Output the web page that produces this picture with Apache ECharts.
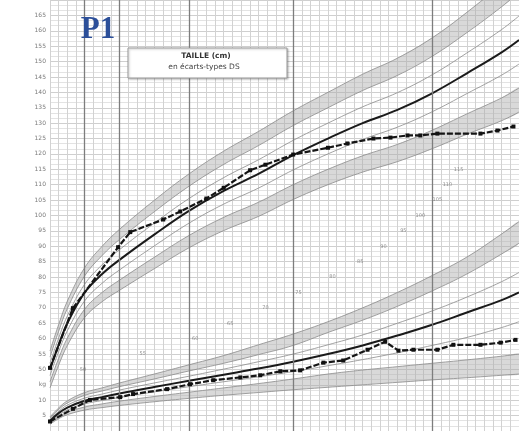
<!DOCTYPE html>
<html>
<head>
<meta charset="utf-8">
<script src="https://cdn.jsdelivr.net/npm/echarts/dist/echarts.min.js"></script>
<style>html,body{margin:0;padding:0;background:#fff;}#c{width:519px;height:431px;}</style>
</head>
<body>
<div id="c"></div>
<script>
// ---- Data (age in years) ----
const ages = [0, 0.25, 0.5, 1, 1.5, 2, 3, 4, 5, 6, 7, 8, 9, 10, 11, 12, 13, 13.5];

// Height reference curves (cm)
const heightM  = [50, 58, 65, 75, 81, 85.6, 93.8, 101.5, 108, 113.5, 119.6, 125, 130, 134.3, 139.7, 146.2, 153, 157];
const heightP1 = [52, 60.2, 67.4, 77.7, 84, 88.9, 97.5, 105.5, 112.3, 118.1, 124.4, 130, 135.3, 139.9, 145.7, 152.8, 160.4, 164.8];
const heightP2 = [54, 62.4, 69.8, 80.4, 87, 92.2, 101.2, 109.5, 116.6, 122.7, 129.2, 135, 140.6, 145.5, 151.7, 159.4, 167.8, 172.6];
const heightP3 = [56, 64.6, 72.2, 83.1, 90, 95.5, 104.9, 113.5, 120.9, 127.3, 134, 140, 145.9, 151.1, 157.7, 166, 175.2, 180.4];
const heightM1 = [48, 55.8, 62.6, 72.3, 78, 82.3, 90.1, 97.5, 103.7, 108.9, 114.8, 120, 124.7, 128.7, 133.7, 139.6, 145.6, 149.2];
const heightM2 = [46, 53.6, 60.2, 69.6, 75, 79, 86.4, 93.5, 99.4, 104.3, 110, 115, 119.4, 123.1, 127.7, 133, 138.2, 141.4];
const heightM3 = [44, 51.4, 57.8, 66.9, 72, 75.7, 82.7, 89.5, 95.1, 99.7, 105.2, 110, 114.1, 117.5, 121.7, 126.4, 130.8, 133.6];

// Weight reference curves (kg)
const weightM  = [3.3, 5.8, 7.6, 9.8, 11, 12.2, 14.3, 16.3, 18.3, 20.3, 22.5, 25, 27.8, 31, 34.5, 38.5, 42.5, 45];
const weightP1 = [3.8, 6.4, 8.4, 10.7, 12, 13.3, 15.6, 17.8, 20.1, 22.5, 25, 28, 31.2, 35, 39, 43.5, 48.5, 51.5];
const weightP2 = [4.2, 7, 9.1, 11.6, 13, 14.4, 16.9, 19.5, 22, 24.8, 27.8, 32, 36, 40.5, 45.5, 51, 57.5, 61];
const weightP3 = [4.6, 7.5, 9.8, 12.5, 14, 15.6, 18.5, 21.5, 24.5, 28, 31.5, 35.5, 40, 45, 50.5, 56.5, 64, 68];
const weightM1 = [2.9, 5.1, 6.8, 8.8, 9.9, 10.9, 12.7, 14.4, 16, 17.6, 19.3, 21.2, 23.2, 25.4, 27.8, 30.4, 33.6, 35.5];
const weightM2 = [2.6, 4.6, 6.1, 7.8, 8.8, 9.7, 11.2, 12.6, 14, 15.4, 16.9, 18.5, 19.8, 20.9, 22, 23.1, 24.3, 25];
const weightM3 = [2.2, 4, 5.3, 6.8, 7.6, 8.3, 9.5, 10.6, 11.6, 12.5, 13.4, 14.2, 15, 15.8, 16.6, 17.3, 18.1, 18.5];

// Patient measurements
const patientHeightAges = [0, 0.66, 1.96, 2.31, 3.26, 3.75, 4.5, 5.0, 5.76, 6.2, 7.0, 8.0, 8.56, 9.31, 9.8, 10.29, 10.66, 11.15, 12.39, 12.88, 13.34];
const patientHeight     = [50.5, 69.9, 89.7, 94.6, 98.7, 101.3, 105.5, 109, 114.7, 116.5, 119.8, 122, 123.4, 125, 125.3, 126, 126, 126.6, 126.6, 127.6, 128.9];
const patientWeightAges = [0, 0.66, 1.15, 2.02, 2.39, 3.37, 4.03, 4.7, 5.48, 6.05, 6.63, 7.2, 7.87, 8.44, 9.14, 9.65, 10.03, 10.46, 11.15, 11.61, 12.39, 12.97, 13.4];
const patientWeight     = [3.1, 7.2, 10.1, 11.0, 12.0, 13.6, 15.2, 16.5, 17.4, 18.1, 19.4, 19.7, 22.2, 22.9, 26.4, 29.0, 26.1, 26.4, 26.4, 28.0, 28.0, 28.7, 29.6];

// Major vertical lines (ages)
const majorAges = [1, 2, 4, 7, 11];
// Diagonal small labels (age, height, text)
const diagAges   = [0.95, 2.67, 4.18, 5.19, 6.2, 7.15, 8.13, 8.93, 9.6, 10.17, 10.66, 11.15, 11.44, 11.76];
const diagHeights= [50, 55, 60, 65, 70, 75, 80, 85, 90, 95, 100, 105, 110, 115];
const diagTexts  = ['50','55','60','65','70','75','80','85','90','95','100','105','110','115'];

// Left axis labels below 50 belong to the weight scale
const lowLabels = {45: 'kg', 40: '10', 35: '5'};

const chart = echarts.init(document.getElementById('c'));

function pairs(xs, ys) { return xs.map((x, i) => [x, ys[i]]); }

function band(lower, upper, yIdx) {
  return {
    type: 'custom', coordinateSystem: 'cartesian2d', xAxisIndex: 0, yAxisIndex: yIdx,
    silent: true, z: 1, clip: true,
    data: [[0, 0]],
    renderItem: function (params, api) {
      const pts = [];
      for (let i = 0; i < ages.length; i++) pts.push(api.coord([ages[i], upper[i]]));
      for (let i = ages.length - 1; i >= 0; i--) pts.push(api.coord([ages[i], lower[i]]));
      return { type: 'polygon', shape: { points: pts, smooth: 0.25 }, style: { fill: 'rgba(170,170,170,0.45)' } };
    }
  };
}
function refLine(vals, yIdx, thick) {
  return {
    type: 'line', xAxisIndex: 0, yAxisIndex: yIdx, data: pairs(ages, vals),
    smooth: 0.4, showSymbol: false, silent: true, z: thick ? 4 : 3,
    lineStyle: thick ? { color: '#1a1a1a', width: 2 } : { color: '#8a8a8a', width: 0.8 }
  };
}
function patient(xs, ys, yIdx) {
  return {
    type: 'line', xAxisIndex: 0, yAxisIndex: yIdx, data: pairs(xs, ys),
    symbol: 'rect', symbolSize: 4, showSymbol: true, silent: true, z: 6,
    itemStyle: { color: '#111' },
    lineStyle: { color: '#151515', width: 2.2, type: [6, 2] }
  };
}

const series = [
  band(heightP2, heightP3, 0), band(heightM3, heightM2, 0),
  band(weightP2, weightP3, 1), band(weightM3, weightM2, 1),
  refLine(heightP3, 0), refLine(heightP2, 0), refLine(heightP1, 0),
  refLine(heightM1, 0), refLine(heightM2, 0), refLine(heightM3, 0),
  refLine(heightM, 0, true),
  refLine(weightP3, 1), refLine(weightP2, 1), refLine(weightP1, 1),
  refLine(weightM1, 1), refLine(weightM2, 1), refLine(weightM3, 1),
  refLine(weightM, 1, true),
  patient(patientHeightAges, patientHeight, 0),
  patient(patientWeightAges, patientWeight, 1),
  {
    type: 'scatter', xAxisIndex: 0, yAxisIndex: 0, symbolSize: 0, silent: true, z: 5,
    data: diagAges.map((a, i) => ({ value: [a, diagHeights[i]], label: { formatter: diagTexts[i] } })),
    label: { show: true, position: 'inside', fontSize: 5, color: '#777', fontFamily: 'DejaVu Sans' }
  },
  {
    type: 'line', xAxisIndex: 0, yAxisIndex: 0, data: [], silent: true,
    markLine: {
      silent: true, symbol: ['none', 'none'], label: { show: false },
      lineStyle: { color: '#7d7d7d', width: 1.3, type: 'solid' },
      data: majorAges.map(a => ({ xAxis: a }))
    }
  }
];

chart.setOption({
  animation: false,
  backgroundColor: '#fff',
  grid: { left: 50, right: 0, top: -2, bottom: -4, containLabel: false },
  xAxis: {
    type: 'value', min: 0, max: 13.5, interval: 0.25,
    axisLine: { show: false }, axisTick: { show: false }, axisLabel: { show: false },
    splitLine: { show: true, lineStyle: { color: '#d2d2d2', width: 1 } }
  },
  yAxis: [
    {
      type: 'value', min: 30, max: 170, interval: 5,
      axisLine: { show: false }, axisTick: { show: false },
      axisLabel: {
        fontSize: 6, color: '#7a7a7a', margin: 4, fontFamily: 'DejaVu Sans',
        formatter: function (v) {
          if (v >= 50 && v <= 165) return String(v);
          return lowLabels[v] || '';
        }
      },
      splitLine: { show: true, lineStyle: { color: '#cfcfcf', width: 1 } },
      minorTick: { show: false, splitNumber: 3 },
      minorSplitLine: { show: true, lineStyle: { color: '#e3e3e3', width: 1 } }
    },
    {
      type: 'value', min: 0, max: 140, show: false, splitLine: { show: false }
    }
  ],
  graphic: [
    {
      type: 'rect', shape: { x: 128, y: 48, width: 159, height: 30 }, z: 20,
      style: { fill: '#fff', stroke: '#9a9a9a', lineWidth: 1, shadowBlur: 2, shadowColor: 'rgba(0,0,0,0.25)', shadowOffsetX: 1, shadowOffsetY: 1 }
    },
    {
      type: 'text', x: 206, y: 56, z: 21,
      style: { text: 'TAILLE (cm)', fontSize: 7.5, fontFamily: 'DejaVu Sans', fill: '#333', align: 'center', verticalAlign: 'middle', fontWeight: 'bold' }
    },
    {
      type: 'text', x: 204, y: 67, z: 21,
      style: { text: 'en écarts-types DS', fontSize: 7.5, fontFamily: 'DejaVu Sans', fill: '#444', align: 'center', verticalAlign: 'middle' }
    },
    {
      type: 'text', x: 98, y: 30, z: 21,
      style: { text: 'P1', fontSize: 31, fontFamily: 'Liberation Serif', fontWeight: 'bold', fill: '#2c4f99', align: 'center', verticalAlign: 'middle' }
    }
  ],
  series: series
});
</script>
</body>
</html>
